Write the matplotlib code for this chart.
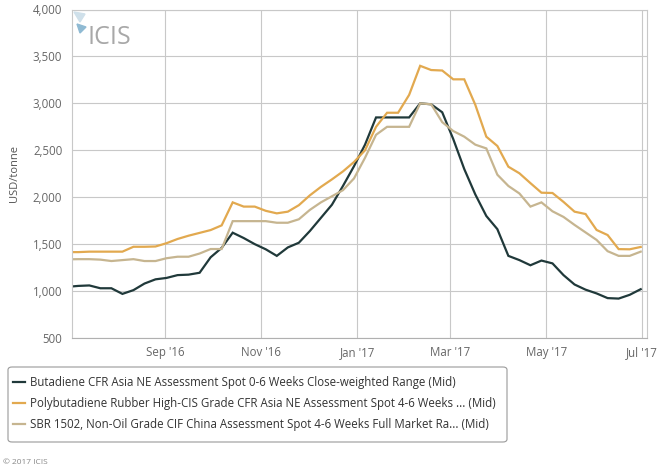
import matplotlib
matplotlib.use("Agg")
import matplotlib.pyplot as plt
from matplotlib.patches import Polygon, FancyBboxPatch
import pandas as pd

plt.rcParams['font.family'] = ['Open Sans', 'DejaVu Sans']

dates = pd.date_range('2016-07-01', '2017-06-30', freq='W-FRI')

butadiene = [1045, 1055, 1060, 1030, 1030, 970, 1010, 1080, 1125, 1140,
             1170, 1175, 1195, 1360, 1460, 1622, 1565, 1500, 1445, 1375,
             1465, 1515, 1640, 1780, 1920, 2120, 2330, 2560, 2850, 2850,
             2850, 2850, 3000, 2990, 2905, 2620, 2300, 2030, 1800, 1660,
             1375, 1330, 1275, 1325, 1295, 1170, 1070, 1015, 975, 925,
             920, 960, 1020]

polybutadiene = [1415, 1415, 1420, 1420, 1420, 1420, 1472, 1472, 1475, 1510,
                 1555, 1590, 1620, 1650, 1700, 1945, 1900, 1900, 1855, 1828,
                 1846, 1915, 2020, 2110, 2190, 2275, 2375, 2500, 2750, 2900,
                 2900, 3090, 3400, 3355, 3350, 3256, 3256, 2985, 2645, 2546,
                 2325, 2255, 2150, 2048, 2045, 1950, 1846, 1821, 1651, 1597,
                 1447, 1445, 1470]

sbr = [1338, 1340, 1340, 1335, 1320, 1330, 1340, 1320, 1320, 1350,
       1366, 1366, 1400, 1448, 1448, 1745, 1745, 1745, 1745, 1728,
       1728, 1765, 1865, 1945, 2010, 2075, 2200, 2420, 2665, 2750,
       2750, 2750, 3000, 2990, 2800, 2705, 2645, 2560, 2520, 2240,
       2120, 2040, 1900, 1945, 1850, 1790, 1705, 1625, 1545, 1425,
       1375, 1375, 1420]

labels = [
    "Butadiene CFR Asia NE Assessment Spot 0-6 Weeks Close-weighted Range (Mid)",
    "Polybutadiene Rubber High-CIS Grade CFR Asia NE Assessment Spot 4-6 Weeks ... (Mid)",
    "SBR 1502, Non-Oil Grade CIF China Assessment Spot 4-6 Weeks Full Market Ra... (Mid)",
]
colors = ["#20393a", "#e2a94f", "#c6b590"]

tick_dates = pd.to_datetime(['2016-09-01', '2016-11-01', '2017-01-01',
                             '2017-03-01', '2017-05-01', '2017-07-01'])
tick_labels = ["Sep '16", "Nov '16", "Jan '17", "Mar '17", "May '17", "Jul '17"]
y_ticks = [500, 1000, 1500, 2000, 2500, 3000, 3500, 4000]

W, H = 666, 474
fig = plt.figure(figsize=(W / 100, H / 100), dpi=100)
ax = fig.add_axes([72 / W, 1 - 338 / H, (647 - 72) / W, (338 - 9.5) / H])

lines = []
for series, c, lab in zip([butadiene, polybutadiene, sbr], colors, labels):
    l, = ax.plot(dates, series, color=c, lw=1.6, label=lab, solid_joinstyle='miter')
    lines.append(l)

ax.set_xlim(pd.Timestamp('2016-07-04'), pd.Timestamp('2017-07-04'))
ax.set_ylim(500, 4000)
ax.set_yticks(y_ticks)
ax.set_yticklabels([f"{v:,}" for v in y_ticks])
ax.set_xticks(tick_dates)
ax.set_xticklabels(tick_labels)
ax.grid(True, color="#c8c8c8", lw=0.8)
ax.set_axisbelow(True)
ax.tick_params(length=0, labelsize=8.3, colors="#666666", pad=6)
ax.tick_params(axis='y', pad=7)
for s in ax.spines.values():
    s.set_color("#c8c8c8")
    s.set_linewidth(0.8)
ax.spines['bottom'].set_color("#b0b0b0")

fig.text(15 / W, 1 - 174 / H, "USD/tonne", rotation=90, ha='center', va='center',
         fontsize=8, color="#555555")

# ICIS watermark
fig.text(87 / W, 1 - 37 / H, "ICIS", ha='left', va='center', fontsize=18,
         color="#a8a8a8")
fig.patches.append(Polygon([[74 / W, 1 - 12 / H], [85 / W, 1 - 14 / H], [80 / W, 1 - 22 / H]],
                           closed=True, transform=fig.transFigure, color="#cfe0ea"))
fig.patches.append(Polygon([[77 / W, 1 - 24 / H], [86 / W, 1 - 27 / H], [80 / W, 1 - 33 / H]],
                           closed=True, transform=fig.transFigure, color="#8fbad3"))

# legend box drawn at fixed position
box = FancyBboxPatch((8 / W, 1 - 442 / H), (507 - 8) / W, (442 - 367) / H,
                     boxstyle="round,pad=0,rounding_size=0.006",
                     transform=fig.transFigure, facecolor="white",
                     edgecolor="#999999", linewidth=0.8)
fig.patches.append(box)

leg = fig.legend(handles=lines, labels=labels, loc='upper left',
                 bbox_to_anchor=(13 / W, 1 - 376 / H), borderaxespad=0,
                 fontsize=8.3, frameon=False,
                 handlelength=1.05, handletextpad=0.45, labelspacing=0.7,
                 borderpad=0)
for t in leg.get_texts():
    t.set_color("#333333")

fig.text(3 / W, 1 - 463 / H, "© 2017 ICIS", ha='left', va='center', fontsize=6,
         color="#888888")

fig.savefig("out.png", dpi=100)
